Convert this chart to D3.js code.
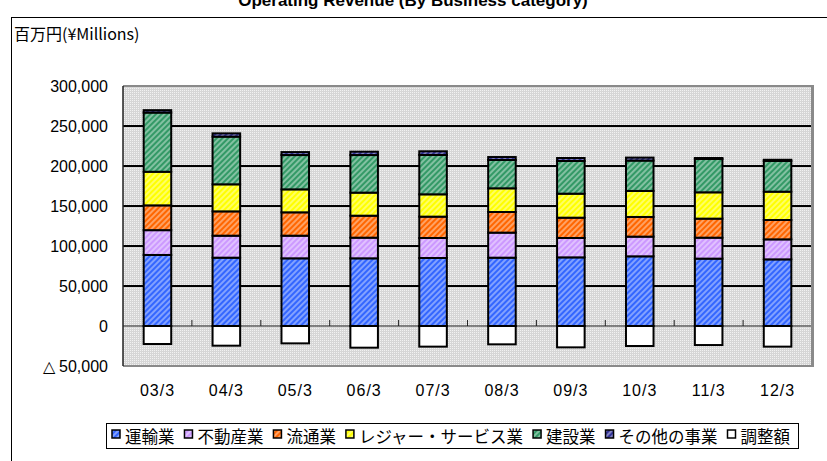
<!DOCTYPE html>
<html><head><meta charset="utf-8">
<script src="https://cdn.jsdelivr.net/npm/d3@7"></script>
<style>body{margin:0;background:#fff;overflow:hidden}</style>
</head><body><svg id="c" width="827" height="461"></svg>
<script>
const categories = ["03/3","04/3","05/3","06/3","07/3","08/3","09/3","10/3","11/3","12/3"];
const transport    = [88800,85400,84600,84600,85000,85400,85800,87100,84200,83300];
const realEstate   = [31000,27500,28300,25800,25000,31300,24200,24600,26200,25000];
const distribution = [31000,30400,29200,27500,26700,25800,25400,24600,23800,24200];
const leisure      = [42000,33800,28700,28800,27900,29600,30000,32500,32900,35400];
const construction = [74000,59600,42900,47000,49200,35400,40900,38000,41700,38400];
const others       = [3000,4100,3700,4200,4600,3700,3700,3700,1200,1500];
const adjustment   = [-22500,-24600,-21700,-27100,-25800,-22900,-26700,-25000,-23800,-25800];
const seriesNames  = ["運輸業","不動産業","流通業","レジャー・サービス業","建設業","その他の事業","調整額"];
const seriesColors = ["#3366ff","#cc99ff","#ff6600","#ffff00","#339966","#333399","#ffffff"];
const yTicks = [-50000,0,50000,100000,150000,200000,250000,300000];
const titleText = "Operating Revenue (By Business category)";
const unitText = "百万円(¥Millions)";

const svg = d3.select("#c");
const defs = svg.append("defs");
const bp = defs.append("pattern").attr("id","bg").attr("width",2).attr("height",2).attr("patternUnits","userSpaceOnUse");
bp.append("rect").attr("width",2).attr("height",2).attr("fill","#d6d6d6");
bp.append("rect").attr("width",1).attr("height",1).attr("fill","#f2f2f2");
seriesColors.forEach((c,i)=>{
  const p = defs.append("pattern").attr("id","h"+i).attr("width",4).attr("height",4)
    .attr("patternUnits","userSpaceOnUse").attr("patternTransform","rotate(45)");
  p.append("rect").attr("width",4).attr("height",4).attr("fill",c);
  if (c !== "#ffffff") p.append("line").attr("x1",1).attr("y1",0).attr("x2",1).attr("y2",4)
    .attr("stroke","#fff").attr("stroke-width",1.3).attr("stroke-opacity",0.6);
});

svg.append("text").attr("x",413).attr("y",6).attr("text-anchor","middle")
  .attr("font-family","Liberation Sans, Arial, sans-serif").attr("font-weight","bold").attr("font-size",17)
  .text(titleText);
svg.append("rect").attr("x",11.5).attr("y",17.5).attr("width",900).attr("height",500)
  .attr("fill","none").attr("stroke","#000").attr("stroke-width",1);
svg.append("text").attr("x",14).attr("y",40).attr("font-family","Noto Sans CJK JP, sans-serif")
  .attr("font-size",16).text(unitText);

const L=123, R=812, T=86, B=366;
const x = d3.scaleBand().domain(categories).range([L,R]).paddingInner(0.6).paddingOuter(0.3);
const y = d3.scaleLinear().domain([-50000,300000]).range([B,T]);

svg.append("rect").attr("x",L).attr("y",T).attr("width",R-L).attr("height",B-T).attr("fill","url(#bg)");
svg.append("g").selectAll("line").data(yTicks.filter(v=>v>0 && v<300000)).join("line")
  .attr("x1",L).attr("x2",R).attr("y1",d=>y(d)).attr("y2",d=>y(d))
  .attr("stroke","#000").attr("stroke-width",2);
svg.append("line").attr("x1",L).attr("x2",R).attr("y1",y(0)).attr("y2",y(0)).attr("stroke","#222").attr("stroke-width",1);
svg.append("g").selectAll("line").data(categories.slice(1)).join("line")
  .attr("x1",d=>x(d)-x.bandwidth()*0.75).attr("x2",d=>x(d)-x.bandwidth()*0.75)
  .attr("y1",y(0)-6).attr("y2",y(0)).attr("stroke","#222").attr("stroke-width",1);

const posSeries = [transport, realEstate, distribution, leisure, construction, others];
const rows = categories.map((c,i)=>{ const r={cat:c}; posSeries.forEach((s,k)=>r["s"+k]=s[i]); return r; });
const stack = d3.stack().keys(posSeries.map((s,k)=>"s"+k))(rows);
const bars = svg.append("g");
stack.forEach((layer,k)=>{
  bars.append("g").selectAll("rect").data(layer).join("rect")
    .attr("x",d=>x(d.data.cat)).attr("width",x.bandwidth())
    .attr("y",d=>y(d[1])).attr("height",d=>y(d[0])-y(d[1]))
    .attr("fill","url(#h"+k+")").attr("stroke","#000").attr("stroke-width",2);
});
bars.append("g").selectAll("rect").data(adjustment).join("rect")
  .attr("x",(d,i)=>x(categories[i])).attr("width",x.bandwidth())
  .attr("y",y(0)).attr("height",d=>y(d)-y(0))
  .attr("fill","#fff").attr("stroke","#000").attr("stroke-width",2);

svg.append("line").attr("x1",L).attr("x2",R+1).attr("y1",T).attr("y2",T).attr("stroke","#8a8a8a").attr("stroke-width",2);
svg.append("line").attr("x1",R+0.5).attr("x2",R+0.5).attr("y1",T-1).attr("y2",B+1).attr("stroke","#8a8a8a").attr("stroke-width",3);
svg.append("line").attr("x1",L).attr("x2",R+2).attr("y1",B).attr("y2",B).attr("stroke","#8a8a8a").attr("stroke-width",2);
svg.append("line").attr("x1",L).attr("x2",L).attr("y1",T).attr("y2",B).attr("stroke","#222").attr("stroke-width",1.5);

const fmt = d3.format(",");
const yAxis = svg.append("g").attr("transform",`translate(${L},0)`)
  .call(d3.axisLeft(y).tickValues(yTicks).tickSize(0).tickPadding(15)
    .tickFormat(v=> v<0 ? "△ "+fmt(-v) : fmt(v)));
yAxis.select(".domain").remove();
yAxis.selectAll("text").attr("font-family","Liberation Sans, Arial, sans-serif").attr("font-size",16).attr("fill","#000");

const xAxis = svg.append("g").attr("transform",`translate(0,${B})`)
  .call(d3.axisBottom(x).tickSize(0).tickPadding(19));
xAxis.select(".domain").remove();
xAxis.selectAll("text").attr("font-family","Liberation Sans, Arial, sans-serif").attr("font-size",16)
  .attr("letter-spacing",1).attr("fill","#000");

const lg = svg.append("g");
lg.append("rect").attr("x",106.5).attr("y",423.5).attr("width",692).attr("height",25)
  .attr("fill","#fff").attr("stroke","#000").attr("stroke-width",1);
const items = seriesNames.map((n,i)=>{
  const g = lg.append("g");
  g.append("rect").attr("y",430).attr("width",8).attr("height",8)
    .attr("fill","url(#h"+i+")").attr("stroke","#000").attr("stroke-width",1.5);
  const t = g.append("text").attr("x",13).attr("y",443).attr("font-family","Noto Sans CJK JP, sans-serif")
    .attr("font-size",16.5).text(n);
  return {g, w: 13 + t.node().getComputedTextLength()};
});
const total = d3.sum(items,d=>d.w);
const gap = (790-112-total)/(items.length-1);
let cx = 112;
items.forEach(it=>{ it.g.attr("transform",`translate(${cx},0)`); cx += it.w + gap; });
</script></body></html>
